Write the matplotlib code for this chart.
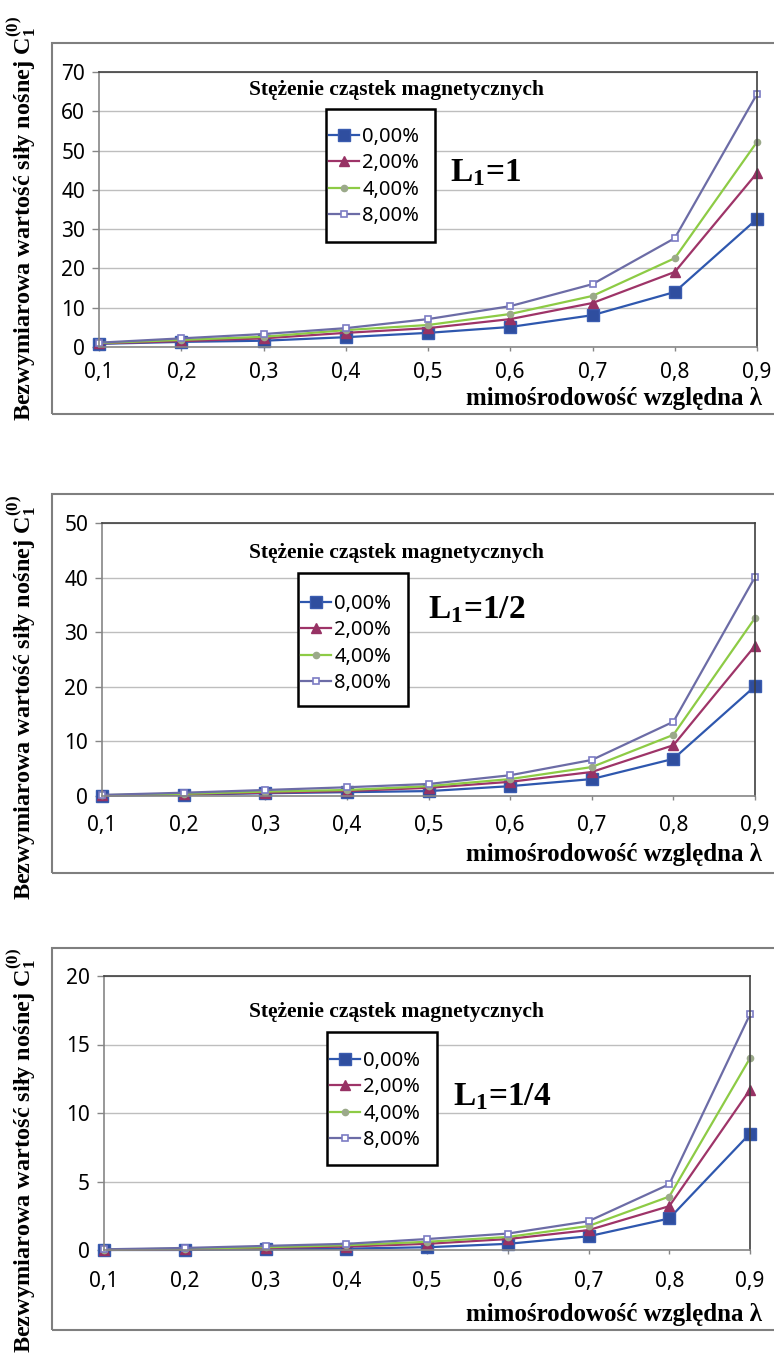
import matplotlib
matplotlib.use("Agg")
import matplotlib.pyplot as plt
from matplotlib.patches import Rectangle

plt.rcParams['mathtext.fontset'] = 'custom'
plt.rcParams['mathtext.rm'] = 'Liberation Serif:bold'
plt.rcParams['mathtext.it'] = 'Liberation Serif:bold'
plt.rcParams['mathtext.bf'] = 'Liberation Serif:bold'
plt.rcParams['mathtext.default'] = 'rm'

W, H = 774, 1366

# eccentricity (x axis)
lam = [0.1, 0.2, 0.3, 0.4, 0.5, 0.6, 0.7, 0.8, 0.9]
lam_labels = ['0,1', '0,2', '0,3', '0,4', '0,5', '0,6', '0,7', '0,8', '0,9']
series_names = ['0,00%', '2,00%', '4,00%', '8,00%']

# L1 = 1
L1_c0 = [0.8, 1.3, 1.6, 2.5, 3.6, 5.1, 8.1, 14.0, 32.6]
L1_c2 = [0.9, 1.5, 2.2, 3.6, 4.8, 7.1, 11.2, 19.1, 44.3]
L1_c4 = [1.0, 1.8, 2.6, 4.3, 5.6, 8.4, 13.0, 22.6, 52.2]
L1_c8 = [1.1, 2.2, 3.3, 4.8, 7.1, 10.4, 16.0, 27.7, 64.4]

# L1 = 1/2
L2_c0 = [0.05, 0.25, 0.5, 0.7, 0.9, 1.8, 3.1, 6.8, 20.1]
L2_c2 = [0.1, 0.35, 0.6, 0.9, 1.5, 2.6, 4.4, 9.3, 27.5]
L2_c4 = [0.15, 0.4, 0.8, 1.1, 1.8, 3.1, 5.3, 11.2, 32.6]
L2_c8 = [0.2, 0.6, 1.1, 1.6, 2.2, 3.8, 6.6, 13.6, 40.1]

# L1 = 1/4
L4_c0 = [0.0, 0.0, 0.05, 0.1, 0.2, 0.45, 1.0, 2.3, 8.5]
L4_c2 = [0.0, 0.05, 0.15, 0.25, 0.45, 0.8, 1.45, 3.2, 11.7]
L4_c4 = [0.03, 0.1, 0.2, 0.35, 0.6, 0.95, 1.75, 3.9, 14.0]
L4_c8 = [0.05, 0.15, 0.3, 0.45, 0.8, 1.2, 2.1, 4.8, 17.2]

styles = [
    dict(color='#2E57AE', marker='s', markersize=8.5, markerfacecolor='#2F4E9F',
         markeredgecolor='#3A5CB0'),
    dict(color='#9E3468', marker='^', markersize=6.5, markerfacecolor='#973264',
         markeredgecolor='#973264'),
    dict(color='#8DCB45', marker='o', markersize=4.5, markerfacecolor='#9BA98A',
         markeredgecolor='#9BA98A'),
    dict(color='#6C6CA6', marker='s', markersize=5, markerfacecolor='white',
         markeredgecolor='#7C7CC4', markeredgewidth=1.2),
]

tick_font = dict(family='Noto Sans', size=15)
serif_bold = dict(family='Liberation Serif', weight='bold')


def fx(px):
    return px / W


def fy(py):
    return 1 - py / H


fig = plt.figure(figsize=(W / 100, H / 100), dpi=100)

panels = [
    dict(data=[L1_c0, L1_c2, L1_c4, L1_c8], ymax=70, ystep=10,
         box=(99, 757, 72, 347), frame=(43, 414), leg=(326, 435, 109, 242),
         leg_row=138, title_y=90, lab='L$_1$=1', lab_xy=(450, 173),
         ylab_c=218, xpad=8, xlab_y=398),
    dict(data=[L2_c0, L2_c2, L2_c4, L2_c8], ymax=50, ystep=10,
         box=(102, 755, 523, 796), frame=(494, 873), leg=(298, 408, 573, 706),
         leg_row=605, title_y=553, lab='L$_1$=1/2', lab_xy=(428, 610),
         ylab_c=697, xpad=11, xlab_y=855),
    dict(data=[L4_c0, L4_c2, L4_c4, L4_c8], ymax=20, ystep=5,
         box=(104, 750, 976, 1250), frame=(948, 1330), leg=(327, 437, 1032, 1165),
         leg_row=1062, title_y=1012, lab='L$_1$=1/4', lab_xy=(453, 1097),
         ylab_c=1150, xpad=12, xlab_y=1315),
]

for p in panels:
    # outer chart frame (right edge runs off the picture)
    ft, fb = p['frame']
    fig.patches.append(Rectangle((fx(52), fy(fb)), fx(760), (fb - ft) / H,
                                 transform=fig.transFigure, fill=False,
                                 edgecolor='#7F7F7F', linewidth=1.5))

    l, r, t, b = p['box']
    ax = fig.add_axes([fx(l), fy(b), (r - l) / W, (b - t) / H])
    handles = []
    for vals, name, st in zip(p['data'], series_names, styles):
        ln, = ax.plot(lam, vals, linewidth=1.6, label=name, clip_on=False, **st)
        handles.append(ln)

    ax.set_xlim(0.1, 0.9)
    ax.set_ylim(0, p['ymax'])
    ax.set_xticks(lam)
    ax.set_xticklabels(lam_labels, **tick_font)
    yt = list(range(0, p['ymax'] + 1, p['ystep']))
    ax.set_yticks(yt)
    ax.set_yticklabels([str(v) for v in yt], **tick_font)
    ax.tick_params(axis='y', length=5, width=1, color='#868686', pad=5)
    ax.tick_params(axis='x', length=3, width=1, color='#868686', pad=p['xpad'])
    ax.grid(axis='y', color='#BEBEBE', linewidth=1)
    ax.set_axisbelow(True)
    for s in ['left', 'bottom']:
        ax.spines[s].set_color('#868686')
        ax.spines[s].set_linewidth(1.2)
    for s in ['top', 'right']:
        ax.spines[s].set_color('#404040')
        ax.spines[s].set_linewidth(1.2)

    # legend with its own white box, drawn above the plot
    ll, lr, lt, lb = p['leg']
    fig.patches.append(Rectangle((fx(ll), fy(lb)), (lr - ll) / W, (lb - lt) / H,
                                 transform=fig.transFigure, fill=True,
                                 facecolor='white', edgecolor='black',
                                 linewidth=1.8, zorder=4))
    leg = fig.legend(handles=handles, loc='upper left',
                     bbox_to_anchor=(fx(ll + 3), fy(p['leg_row'] - 11)),
                     bbox_transform=fig.transFigure, frameon=False,
                     borderpad=0, borderaxespad=0, handlelength=1.5,
                     handletextpad=0.15, labelspacing=0.32,
                     prop=dict(family='Noto Sans', size=14.5))
    leg.set_zorder(5)

    fig.text(fx(397), fy(p['title_y']), 'Stężenie cząstek magnetycznych',
             ha='center', va='center', fontsize=15.5, **serif_bold)
    fig.text(fx(p['lab_xy'][0]), fy(p['lab_xy'][1]), p['lab'],
             ha='left', va='center', fontsize=24, **serif_bold)
    fig.text(fx(762), fy(p['xlab_y']), 'mimośrodowość względna λ',
             ha='right', va='center', fontsize=18, **serif_bold)
    fig.text(fx(22), fy(p['ylab_c']), 'Bezwymiarowa wartość siły nośnej C$_1^{(0)}$',
             ha='center', va='center', rotation=90, fontsize=17.5, **serif_bold)

fig.savefig('out.png', dpi=100)
